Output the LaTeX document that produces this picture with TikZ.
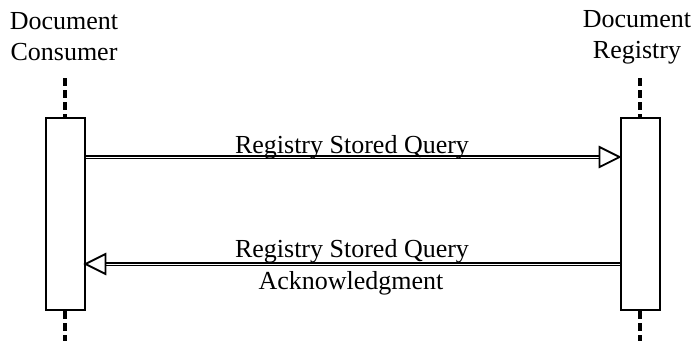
\documentclass[tikz,border=0pt]{standalone}
\usepackage{fontspec}
\setmainfont{Liberation Serif}
\begin{document}
\begin{tikzpicture}[x=1pt,y=-1pt,
  lbl/.style={font=\fontsize{26}{31}\selectfont, inner sep=0pt, align=center},
  actbox/.style={draw, line width=2pt, minimum width=39pt, minimum height=192pt, inner sep=0pt},
  life/.style={line width=3.2pt, dash pattern=on 8pt off 4pt},
  msg/.style={double, double distance=0.9pt, line width=1.6pt},
  head/.style={draw, line width=1.8pt, fill=white}]
\useasboundingbox (0,0) rectangle (696,343);
\node[lbl] (hc) at (64,37) {Document\\Consumer};
\node[lbl] (hr) at (637,37) {Document\\Registry};
\node[actbox] (bc) at (65,214) {};
\node[actbox] (br) at (640,214) {};
\coordinate (ct) at (65,78);
\coordinate (cb) at (65,341);
\coordinate (rt) at (640,78);
\coordinate (rb) at (640,341);
\draw[life] (ct) -- (bc.north);
\draw[life] (bc.south) -- (cb);
\draw[life] (rt) -- (br.north);
\draw[life] (br.south) -- (rb);
% message 1
\coordinate (m1s) at (bc.east |- 0,157);
\coordinate (m1e) at (br.west |- 0,157);
\draw[msg] (m1s) -- ([xshift=-20pt]m1e);
\draw[head] (m1e) -- ++(-20,-10) -- ++(0,20) -- cycle;
\node[lbl, anchor=base] (l1) at (352,153) {Registry Stored Query};
% message 2
\coordinate (m2s) at (br.west |- 0,264);
\coordinate (m2e) at (bc.east |- 0,264);
\draw[msg] (m2s) -- ([xshift=20pt]m2e);
\draw[head] (m2e) -- ++(20,-10) -- ++(0,20) -- cycle;
\node[lbl, anchor=base] (l2) at (352,257) {Registry Stored Query};
\node[lbl, anchor=base] (l3) at (351,289) {Acknowledgment};
\end{tikzpicture}
\end{document}
